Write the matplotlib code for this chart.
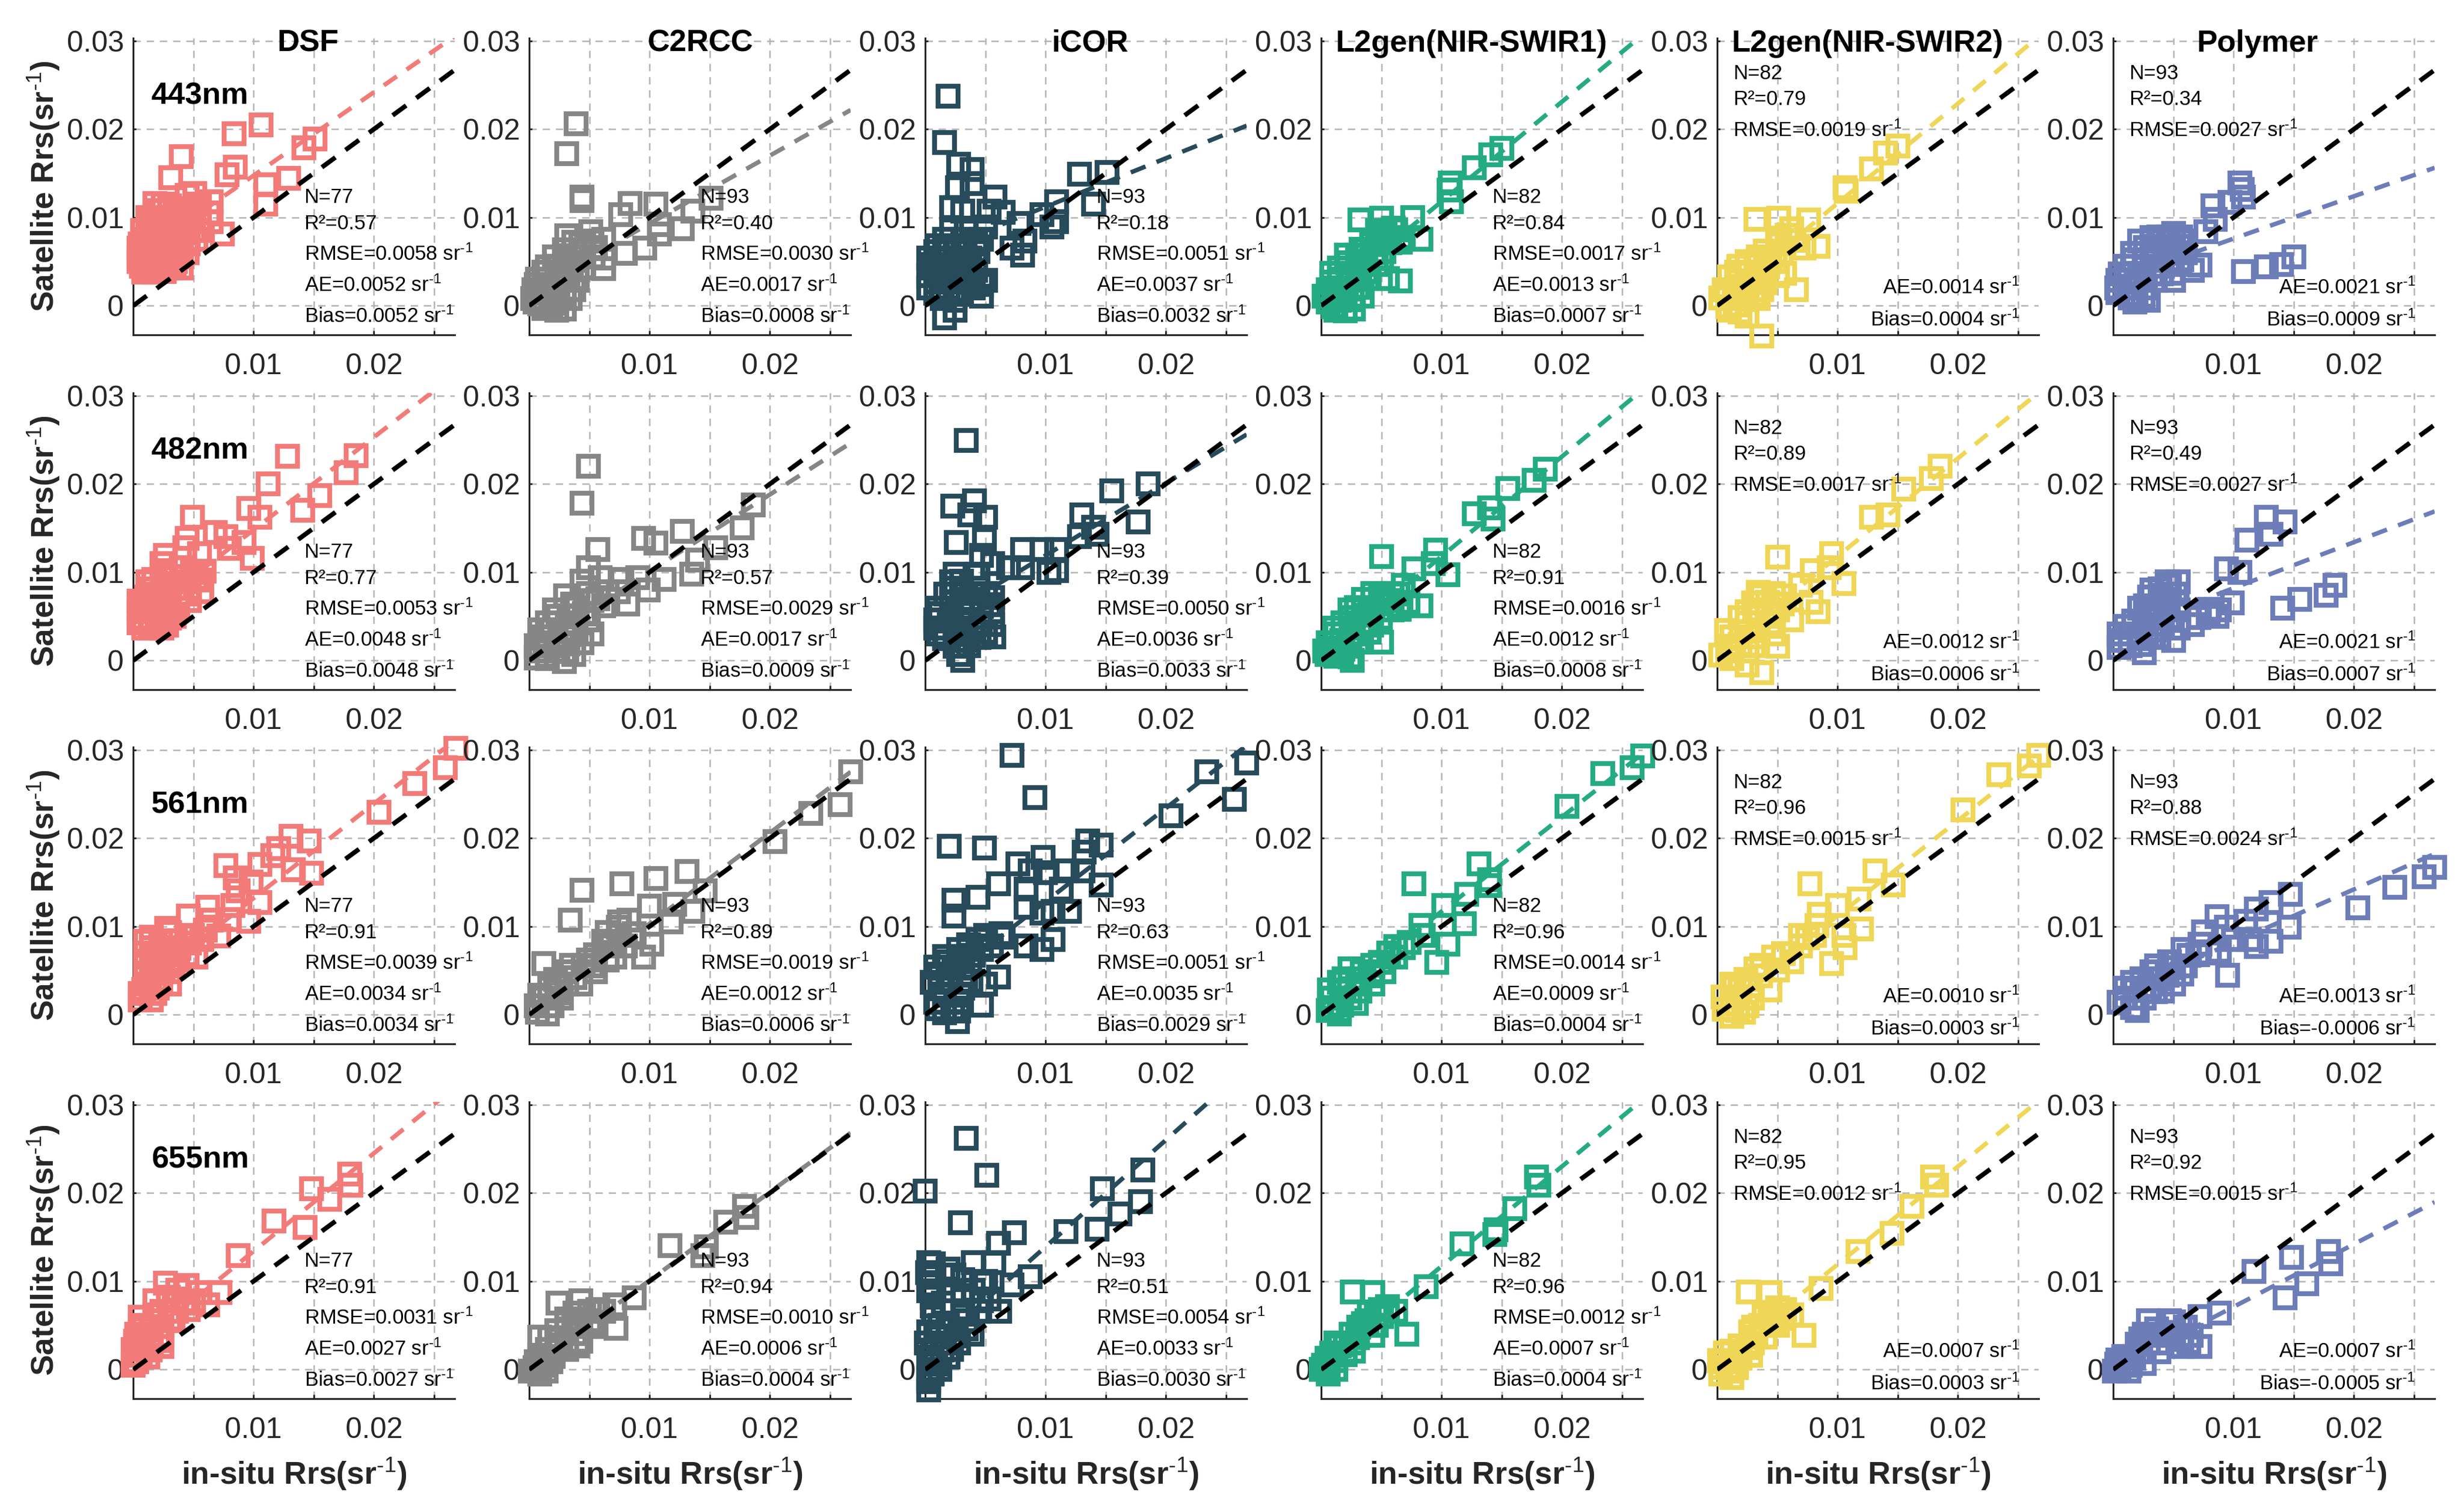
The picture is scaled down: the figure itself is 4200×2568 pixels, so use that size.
import numpy as np
import matplotlib
matplotlib.use("Agg")
import matplotlib.pyplot as plt

plt.rcParams['font.family'] = ['Liberation Sans', 'DejaVu Sans']
plt.rcParams['mathtext.fontset'] = 'custom'
plt.rcParams['mathtext.rm'] = 'Liberation Sans'
plt.rcParams['mathtext.it'] = 'Liberation Sans'
plt.rcParams['mathtext.bf'] = 'Liberation Sans:bold'
plt.rcParams['mathtext.default'] = 'regular'

methods = ['DSF', 'C2RCC', 'iCOR', 'L2gen(NIR-SWIR1)', 'L2gen(NIR-SWIR2)', 'Polymer']
bands = ['443nm', '482nm', '561nm', '655nm']
colors = ['#F27B79', '#868686', '#274B5A', '#25AB83', '#EFD656', '#6C7DB8']

# all scatter values below are in 0.001 sr-1
dsf_443_x = [10.6,8.4,15.1,14.2,4.0,8.5,7.8,3.1,12.9,11,11,5.1,6.5,1.8,7.4,4,2.5,3.0,4.5,5.5,6.3,1.2,2,3,4,5,6.5,0.8,1.5,2.5,3.5,4.5,5.5,1,2,3,4,5.2,0.5,1.2,2,3,4,0.5,1,2,3,4,0.7,1.5,2.5,3.5,0.9,1.7,2.6]
dsf_443_y = [20.5,19.5,18.9,17.9,16.9,15.7,14.8,14.5,14.4,13.7,11.5,12.7,11.8,11.6,8.1,4.3,11.5,11.3,12.5,11.5,10.5,10,10,10,10.5,10,9.5,8.5,9,9,9,9,8.5,7.5,7.5,7.5,8,7.5,6.5,6.5,6.5,6.5,6.5,5.5,5.5,5.5,5.5,5.5,4.5,4.5,4.5,5,3.8,3.8,3.9]
c2rcc_443_x = [3.9,3.1,4.4,4.4,8.4,7.6,10.5,15.1,13.6,10.8,12.7,10.8,5.1,3.1,9.6,8,6.2,6.2,2.1,3.7,6.2,4.3,5.5,1.2,3,0.6,2.4,4,0.3,1.8,3.4,1.8,2.9,0.9,3.7,3]
c2rcc_443_y = [20.6,17.2,12.3,11.9,11.6,10.3,11.5,12.2,10.7,9.2,8.7,8.1,8.4,7.9,6.5,5.9,5.4,4.2,5.5,6.3,7.5,7,6.6,3.8,3.8,2.4,2.4,2.9,0.8,0.8,0.8,-0.1,-0.4,1.8,1.8,5]
icor_443_x = [1.9,1.6,2.8,3.9,2.7,3.9,12.8,15.1,14,5.8,2.2,3.1,5.3,6.5,10.9,9.7,10.9,10.5,7.8,5,8.3,8.1,7.2,4.7,1.6,3.1,0.9,2.5,4.4,0.6,2.2,3.7,0.3,1.9,3.4,5,0.3,1.9,4.7,2.5,1.6,4.7,2.5]
icor_443_y = [23.7,18.5,16,15.4,13.4,13.8,14.9,15.1,11.5,12.3,11.1,10.7,10.7,10.6,11.8,10.3,9.5,8.9,9.3,8.9,7.3,5.7,6.5,7.5,7.5,7.5,6.1,6.1,6.1,4.7,4.7,4.7,3.4,3.4,3.4,2.9,2,2,1.1,-0.5,-1.4,2.4,0.6]
swir1_443_x = [15,14.1,12.7,10.7,10.6,10.8,3.2,5,7.6,6.2,8.3,6.8,5,2.1,3.7,5.2,6.6,5.5,1.5,3.1,4.6,0.9,2.4,4,0.25,1.8,3.4,1.2,2.7]
swir1_443_y = [17.8,17.1,15.6,13.9,13.1,11.8,9.7,9.9,10,8.6,7.5,7.7,7.5,5.7,6.3,6.1,2.8,3.1,4.3,4.5,4.7,2.7,2.9,3.1,1.1,1.3,1.1,-0.5,-0.4]
swir2_443_x = [15,14,12.8,10.6,10.7,3.2,5.1,7.6,6.2,8.4,5,7.2,2.5,4.4,1.6,3.4,5,5.6,6.6,0.6,2.2,3.7,0.9,2.5,2.5,3.7,1.9,3.4]
swir2_443_y = [18.1,17.3,15.5,13.4,13,9.8,9.9,9.7,8.7,6.7,7,6.5,5,5.2,3.8,3.8,3.4,3.7,1.8,1.8,2,1.8,-0.1,0.7,-1.2,-3.4,-0.7,0.8]
polymer_443_x = [10.5,10.7,10.8,9.7,8.3,8.5,7.7,5,3.2,2.2,4.1,6,15,14,12.7,10.8,7.2,6.6,5,1.6,3.2,4.7,1,2.6,4.1,0.4,1.9,3.5,0.4,1.9,2.9,1.8,5.7]
polymer_443_y = [13.9,13.2,12.3,11.7,11.3,9.8,8.4,8.2,7.7,7.3,7.3,7.3,5.5,4.7,4.4,3.9,4.6,4,2.9,5.9,6.1,6.1,4.5,4.5,4.5,2.9,2.9,2.9,1.5,1.3,0.6,0.4,5.2]

dsf_482_x = [18.5,12.8,17.7,11.2,15.5,14.1,9.6,10.5,4.9,6.8,4.5,7.7,8,9.2,9.9,2.7,5.5,4.3,5.9,2.4,4,1.2,2.7,4.6,5.7,1.2,3,4.6,0.9,2.4,3.7,0.9,2.1,3,0.9,2.4,1.5]
dsf_482_y = [23.2,23.1,21.3,20,18.7,17,17.2,16.2,16.2,14.5,13.8,14,12.7,13.4,11.6,11.9,12.1,12.8,10.1,11,10.5,8.9,9.4,8.9,7.8,7.5,7.8,7.5,6.2,6.2,5.9,4.8,4.8,4.8,3.7,3.7,4.2]
c2rcc_482_x = [4.9,4.4,18.6,17.7,12.7,9.5,10.5,15.5,5.7,14,4.9,13.5,11.2,9,7.7,4.4,5.9,9.9,8.2,7.4,3,4.9,6.5,6.2,2.1,4,1.5,3.4,5.2,1.2,3,0.9,2.4,3.7,2.9,1.5]
c2rcc_482_y = [22,17.8,17.6,15,14.6,13.8,13.3,12.8,12.6,11.4,10.5,9.8,9.2,9.4,9.2,9,9.4,8,6.4,7.8,7.3,7.6,7.8,6.2,5.7,5.9,4.3,4.3,3,2.7,2.7,1.1,1.1,0.7,-0.1,0.2]
icor_482_x = [3.4,18.5,15.5,2.3,4.1,3.7,5,17.7,13,14,14.3,12.8,2.6,4.9,4.7,8.1,9.7,10.9,5.6,6.9,8.1,10.3,10.9,2.5,4.4,2.5,4.4,2.2,3.7,5.6,1.2,3.1,0.9,2.5,5.6,5.7,1.6,3.4,2.8,3.1,5.6]
icor_482_y = [24.9,20,19.2,17.5,18.1,16.5,16.2,15.7,16.5,15.1,14.3,14,13.4,13.7,11.9,12.6,12.6,12.6,11,10.5,10.5,10,10.2,9.8,9.8,8.2,8.2,6.6,6.9,7.1,5.3,5.3,3.7,3.7,4.1,2.7,2.5,2.3,0.7,0,5.5]
swir1_482_x = [18.6,17.7,15.5,14,12.7,14.3,5,9.5,7.7,9.3,10.5,6.8,8.3,4.3,5.9,2.4,4.3,5.9,1.8,3.4,4.9,1.2,2.7,5,4,0.9,2.4,1.2,2.6]
swir1_482_y = [21.7,20.4,19.5,17.3,16.6,16,11.8,12.5,10.4,11,9.7,8.5,6.2,7.6,7.6,5.7,6,5.7,4.3,4.3,4.8,3,3,2.1,3.2,1.4,1.6,0.5,0]
swir2_482_x = [18.5,17.8,15.5,14.2,12.8,5,9.5,7.9,9.3,10.5,6.9,8.4,7.8,3.7,5.6,3.1,5,2.5,4.4,6.2,1.2,3.1,5,4.7,0.9,2.5,2.5,3.7,1.2]
swir2_482_y = [22,20.6,19.4,16.5,16.2,11.7,12.1,10.2,10.5,8.7,8.5,5.5,6.6,7.3,7.3,5.7,5.7,4.3,4.3,4.6,2.7,2.7,1.6,3,1.1,1.1,-0.5,-1.4,0.2]
polymer_482_x = [12.7,14.3,13.1,11.1,9.4,10.5,18.4,17.7,15.5,14.1,9.9,8.8,7.9,6.6,5,4.7,3.2,5.4,4.1,2.2,3.8,5.4,1,2.6,4.1,5.4,0.7,2.2,2.6,3.8]
polymer_482_y = [16.2,15.7,14.3,13.6,10.4,10,8.5,7.4,6.9,5.9,6.5,5.7,5.3,4.1,2.3,8.5,8,8.9,6.9,5.9,5.7,5.7,3.9,4.1,4.1,3.7,2.3,2.5,0.9,2.7]

dsf_561_x = [26.8,25.9,23.4,20.4,13.1,14.6,12.1,11.6,7.7,10.5,13.3,14.8,8.5,9.8,8.7,10.5,6.2,8.3,9.6,4.6,6.5,8,7.1,3,1.5,4.9,3,1.5,5.2,1.8,3.7,3,1.5,3,1.2,0.6,1.8,1.5,0.6]
dsf_561_y = [30.2,28,26.2,22.9,20.2,19.7,18.8,18,16.9,17,16.4,16,15.5,15,14,12.7,12.2,12.4,10.6,11.2,10.7,10.8,8.9,9.3,8.8,9,7.6,7.6,6.5,6.2,6.2,4.9,4.9,3.5,3.5,2.4,2.4,1.7,1.7]
c2rcc_561_x = [26.7,25.8,23.4,20.4,13.1,10.5,7.7,4.4,14.6,12.1,10,3.4,13.6,11.8,8.3,6.5,10.2,9.5,1.2,7.1,6.2,8.7,4.9,5.5,3.1,4.3,2.4,1.2,2.7,0.6,1.5,6.8,7.4]
c2rcc_561_y = [27.5,23.8,22.8,19.6,16.2,15.4,14.8,14.1,14,12.5,12.3,10.7,11.7,10.5,10.7,9.3,8,6.5,5.8,6.5,8.3,9.2,6.2,4.9,4.9,3.5,3.3,1.9,1.9,1,0.1,7.8,9.9]
icor_561_x = [7.2,9.1,26.7,23.4,25.7,20.4,2,4.9,13.5,14.6,9.8,7.7,13.2,11.8,13.1,8.7,10,14.6,11.3,8.4,6.1,4.4,2.4,2.4,8.4,10.6,12,9.7,10.6,9.7,8.4,6.5,4.4,2.8,4.7,1.9,3.7,1.2,3.1,6.1,5,1.2,3.1,4.7,0.9,2.8,1.6,2.7]
icor_561_y = [29.4,24.6,28.5,27.5,24.4,22.5,19.1,18.9,19.7,19.2,17.8,17.1,18.4,16.3,16.3,16.3,16.1,14.7,14.2,14.2,14.8,13.3,13,11.2,12.2,11.7,11.7,11.5,8.5,7.4,7.8,8.8,8.5,7.4,7.4,6,6,4.6,4.6,4.3,3.5,3,3,1.1,1.4,1.4,0.2,-0.8]
swir1_561_x = [26.7,25.8,23.4,20.4,13.1,7.7,14,14,12.1,10.2,8.3,11.9,10.5,8.5,9.6,6.8,6.2,4.3,5.2,3.4,1.5,3,4.3,0.9,2.4,1.5,0.9]
swir1_561_y = [29.3,28,27.3,23.6,17.1,14.8,15.3,14.6,13.6,12.4,10.1,10.3,8,9,5.9,7.6,6.5,5.6,4.9,4.9,3.7,3.5,3.5,1.9,1.9,0.1,0.8]
swir2_561_x = [26.7,25.9,23.4,20.4,13.1,7.7,14.6,11.8,10,8.3,12,10.5,10.6,9.5,6.9,6.2,3.7,5,1.2,2.8,4.4,1.2,2.5,1.2,2.2]
swir2_561_y = [29.4,28.2,27.2,23.2,16.3,14.8,14.7,13.1,12.4,10.1,9.7,9,7.6,5.8,7.8,6,5.6,5.1,3.5,3.3,2.8,1.2,1,-0.2,0.3]
polymer_561_x = [26.7,25.8,23.4,20.3,14.7,13.1,11.9,14.6,8.6,13.1,11.9,11,9.4,7.2,9.5,8.8,6.3,4.7,3.2,5.7,1.6,4.1,1,2.6,1.6,11.3,7.5,10]
polymer_561_y = [16.7,15.6,14.4,12.1,13.6,12.7,12,9.9,11.1,8.3,7.7,10.6,9.9,8,4.5,7.2,6.7,6,4.9,4.6,3.7,2.7,1.9,1.9,0.8,8.5,9.4,8.5]

dsf_655_x = [18,18.1,14.8,16.3,11.7,14.3,8.7,2.7,4.5,7.2,5.5,6.2,1.8,3.4,4.6,0.6,1.8,3,0.9,2.4,0.2,1.5,2.4,0.6,0,0]
dsf_655_y = [22.1,20.9,20.5,19.3,16.8,16.1,12.9,9.8,9.5,8.7,8.7,7.3,7.8,8,6.8,5.9,6.2,5.7,4.6,3.9,3.2,3,2.6,1.6,0.5,2.3]
c2rcc_655_x = [17.9,18.1,16.3,11.7,14.7,14.4,8.7,2.4,4.3,7.1,6.2,7.2,4.3,3.1,3.1,4.3,0.9,2.4,1.5,3.1,0.6,1.8,0.1,0.9,5.5]
c2rcc_655_y = [18.5,17.2,16.7,14,13.9,12.9,8.1,7.5,7.8,7.3,6.6,4.7,5.7,5.7,4.6,3.2,3.7,3.4,2.3,2.3,0.9,0.9,-0.2,-0.5,5.3]
icor_655_x = [3.4,5.1,18.1,14.7,17.9,0,16.2,2.9,7.4,11.7,14.3,6.1,0.3,4,5.7,1.9,0.3,8.7,7.2,3.1,4.7,0.6,3.1,4.7,6.2,4.4,0.7,3.1,0.3,1.9,3.4,0.1,1.6,2.8,0.3,1.9,0.6,0.3,0.3,1.2]
icor_655_y = [26.2,22,22.6,20.5,19,20.2,17.6,16.6,15.5,15.6,15.9,14.3,12.1,12.1,12.1,11.4,10.5,10.5,9.6,10.2,9.8,8.2,8.4,7.8,6.6,6.6,6.3,6.6,4.3,4.6,4.6,3,3,3,1.4,1.4,-0.5,-2.3,-1.4,0]
swir1_655_x = [17.9,18.1,16.1,14.5,14.4,11.7,8.7,2.6,4.3,5.5,6.2,4.6,7.1,4.6,4.3,3.1,2.7,1.5,2.7,1.2,0.2,0.6,0]
swir1_655_y = [21.8,20.9,18.2,15.8,15.3,14.2,9.4,8.8,8.7,7.1,6.6,6.2,4,5,3.9,4.8,3,2.7,2.1,1.6,0.5,-0.5,0]
swir2_655_x = [17.9,18.2,16.2,14.5,11.7,8.6,2.6,4.4,5.6,6.2,4.4,7.2,5,4,2.8,2.5,1.2,2.8,0.6,0.3,1.2,1.6]
swir2_655_y = [21.8,20.9,18.5,15.4,13.4,9.2,8.8,8.7,6.8,6.2,6.4,3.9,5,3.7,4.3,2.5,2.1,1.6,0.9,-0.5,-0.9,0.2]
polymer_655_x = [17.9,18.1,14.8,11.7,16.1,14.3,8.8,7.2,2.9,4.7,6,7.2,5.7,3.2,5,2.2,3.8,1,2.6,0.1,1.3,0.4]
polymer_655_y = [13.4,12,12.7,11.1,9.7,8.1,6.4,6,5.5,5.5,4.8,2.6,2.6,3.9,3.9,2,2,0.7,0.7,-0.2,-0.2,1.1]

# points inside the dense clumps, (x, y) read from where the clumps sit
dsf_443_dense = [(1.2,4.1),(2.1,4.1),(3.1,4.3),(0.5,5),(1.3,5),(2.4,5),(3.4,4.6),(0.9,6),(1.6,6),(2.5,6),(3.5,6),(4.5,6),(.6,7),(1.5,7),(2.5,7),(3.5,7),(4.6,7),(1.2,8),(2.2,8),(3.2,8),(4.2,8.5),(5,8.5),(1.5,9.5),(2.5,9.5),(3.5,9.5),(4.5,9.5),(5.5,9.5),(2.2,10.8),(3.5,11),(5,11)]
c2rcc_443_dense = [(.7,3),(1.5,3),(2.3,3.2),(3.2,3),(.4,1.8),(1.2,1.4),(2,1.6),(2.9,1.3),(.9,.2),(2.2,.3),(1.2,-.3),(2.3,-.5),(1.5,4.4),(2.5,4.5),(3.5,4.5),(4.5,4.3),(3.5,5.5),(4.5,5.5),(5.3,5.5),(2.9,6.3),(4.5,6.3),(5.2,7.3),(3.7,7.2),(.5,.4)]
icor_443_dense = [(1,6.8),(2,6.8),(3.3,6.8),(.3,5.4),(1.3,5.4),(2.9,5.4),(3.7,5.4),(1.1,4),(2.7,4),(4.2,4),(.9,2.7),(2.6,2.7),(3.7,2.7),(.9,1.4),(2.8,1.3),(1.4,.8),(4.2,7),(2.2,8.6),(3.4,8.8),(1.3,1.9),(4,2),(3.1,5),(4.2,5.2),(2,3)]
swir1_443_dense = [(.6,.4),(1.5,.6),(2.6,.7),(1,-.1),(2,-.6),(.6,1.8),(1.2,2),(2.1,2),(3,2.1),(1.5,3),(3.2,3),(.9,3.7),(2.3,3.7),(3.7,3.9),(2.2,4.9),(3.7,5),(3,5.7),(4.4,6),(4.2,7),(5.7,7.1),(5.3,8.1),(6,8.8),(3.3,6.4),(5,5.4),(4.7,8.5),(6.6,7.2)]
swir2_443_dense = [(.3,.9),(1.4,.8),(2.3,1),(3,1.2),(.9,1.3),(1.6,2.8),(2.8,2.8),(4,2.6),(1,3.3),(2.5,3.7),(4.2,4.4),(3.2,4.6),(1.8,4.5),(3.4,5.5),(4.8,5),(4,6.2),(5.3,6),(5.2,7.4),(6.4,7.4),(5.8,8),(1.5,.1),(1,-.5)]
polymer_443_dense = [(.3,2),(1,2),(2.7,2),(.6,3.6),(1.3,3.6),(2.2,3.6),(3.2,3.6),(4,3.6),(1.7,5.2),(2.6,5.2),(3.6,5.2),(4.6,5.2),(2.7,6.6),(3.6,6.7),(4.7,6.7),(5.5,6.7),(3.8,7.8),(4.6,7.8),(5.6,7.8),(6,6),(4.9,3.7),(1.4,.9),(2.5,1.1),(5.5,4.7)]
dsf_482_dense = [(.5,4.3),(1.4,3.7),(2,4.3),(2.8,4),(.5,5.5),(1.5,5.5),(2.8,5.3),(3.4,5),(.5,6.7),(1.5,6.8),(2.8,6.8),(3.7,6.8),(4.7,6.8),(1.6,8.1),(2.4,8.2),(3.5,8.2),(4.7,8.2),(1.7,9.2),(3.5,9.5),(5.2,9.3),(2.6,10.2),(4.9,10),(1.1,7.2),(5.6,9.1)]
c2rcc_482_dense = [(.6,1.7),(1.3,1.7),(2.2,1.7),(3.2,1.9),(.9,3.5),(1.9,3.5),(2.9,3.5),(3.9,3.3),(2.4,5),(3.3,5),(4.6,5.3),(3.6,6.4),(5.2,6.8),(5.7,7),(1.5,.5),(3.1,1),(4.4,2),(.6,.3),(4.9,4.6)]
icor_482_dense = [(.9,4.6),(2,4.5),(3.4,4.3),(4.6,4.3),(1,5.9),(2.2,5),(3.7,5.9),(4.7,6.1),(1.7,7.5),(3,7.8),(5,7.6),(1.7,2.9),(3,3),(4,3.2),(1.5,3.7),(5,3.2),(3,9),(2.2,8.9),(5.3,6.3),(1.1,3),(4.5,2.6),(3.6,1.7),(2.5,1.6)]
swir1_482_dense = [(.5,.7),(1.7,.8),(2.4,.4),(.6,2),(1.7,2.3),(3,2.1),(1.1,3.7),(2.7,3.7),(4.2,4),(2.5,4.9),(3.8,5.1),(5.5,6.8),(5,6.4),(2.9,6),(4.9,7.1),(6.4,7.5),(3.5,6.9),(6.6,6.2),(7.2,6.6),(6.5,5.8),(.3,1.1),(1.8,1.3)]
swir2_482_dense = [(.3,.6),(.9,1.6),(1.9,1.8),(3,1.7),(.8,3.4),(2,3.3),(3.4,3.4),(1.9,4.9),(3.4,5),(4.7,5),(3,6.5),(4.2,6.6),(5.4,6.4),(3.4,7.7),(4.7,7.6),(2.5,5.5)]
polymer_482_dense = [(.5,3),(1.4,3),(2.8,3.2),(3.5,3.5),(1.7,4.5),(3.1,4.8),(4.6,4.9),(2.7,6.2),(3.4,6),(4.5,6.2),(5.3,6.5),(3,7.2),(4,7.4),(5.2,7.5),(3.9,8.1),(4.5,8.9),(1.4,1.7),(2.3,1.8),(3.2,2.6),(.5,1.5),(7.1,4.9),(8,5.8),(8.6,5)]
dsf_561_dense = [(.9,2.9),(2,3),(2.3,3.8),(1,4.3),(2.5,5.4),(3.3,5.5),(1,5.6),(2.3,6.4),(4.5,6.8),(2.5,7.4),(3.8,7.5),(1,7),(2.3,8.3),(3.5,8.4),(4.7,8.1),(5.7,8.5),(1,8.3),(6,9.6),(2.8,9.8)]
c2rcc_561_dense = [(.7,.3),(1.9,1),(.9,2.2),(2.3,2.5),(1.7,3),(3.1,3.5),(2.2,4),(3.8,4.2),(4.5,5.6),(3.5,5.6),(5.2,5.5),(5.5,6.8),(6.5,6.2),(6.5,8),(7.5,9),(8,7.8),(7.5,10.5)]
icor_561_dense = [(.6,3.7),(1.9,3.9),(3.8,3.8),(2.4,5.3),(.9,5.4),(3.1,5.4),(1.6,6.6),(2.9,6.6),(4,6.7),(3.6,7.9),(5.5,7.8),(1.6,2.2),(2.9,2.2),(1,.7),(2.3,.7),(2.8,.4),(6.3,9.2),(5,9)]
swir1_561_dense = [(.6,.5),(1.7,1.1),(2.9,1.3),(.7,2.8),(1.9,2.7),(3.2,2.7),(1.9,4.1),(3.2,4.1),(4.2,4.4),(2.4,5.2),(4.9,5.9),(5.6,7),(6.2,7.7),(7.3,8.2),(1.5,.5)]
swir2_561_dense = [(.6,.6),(1.7,.5),(.5,2),(1.7,2),(2.9,1.9),(1.4,3.1),(2.4,4),(3.6,4.4),(4.7,6.5),(5.5,6.9),(6.9,9),(8.1,9),(8.5,11.4),(3.2,5.2),(1.9,2.9),(7.5,8.7)]
polymer_561_dense = [(.5,1.4),(1.8,2.8),(3,3.2),(3.5,2.6),(2.4,4.1),(3.8,4.1),(5,3.5),(3.6,5.5),(5,5.3),(6,5.5),(5.8,7.4),(7,6.8),(8,7),(1,3),(2,.5),(4.5,4.5)]
dsf_655_dense = [(.3,.9),(1.2,1.4),(.5,2.6),(1.4,2.2),(.9,3.6),(2.1,3.3),(1.5,4.7),(2.4,4.9),(.6,5),(2.4,6.6),(3.6,6.6),(3.3,5.5),(4.2,7.5),(5,7.8),(2.9,8.2),(3.7,9),(.3,4)]
c2rcc_655_dense = [(.5,.2),(1.2,.5),(2,1.5),(.9,1.6),(2.5,2.8),(1.7,3.6),(3.8,4.1),(2.3,4.4),(3.7,5.1),(5,5.5),(5,6.6),(3.8,6.4),(5.7,6.8),(5.2,4.9),(1.4,-.2),(4,2.7)]
icor_655_dense = [(.6,.6),(1.4,2.2),(.6,2.2),(2.2,2.3),(.9,3.7),(2.6,3.8),(3.9,4),(1.2,5),(3.5,5.5),(.6,7.2),(.3,8.9),(1.5,7.5),(2.4,8.9),(4,9),(5,10),(.7,12),(2.4,10.7),(.3,-.9),(.9,.6),(.2,11),(.5,9.6),(5.3,8)]
swir1_655_dense = [(.6,.8),(1.2,1),(.2,.2),(1.2,0),(.9,1.9),(2,1.7),(2,2.8),(1.2,3),(3,3.6),(3.5,5.2),(2.5,4),(4.9,6.8),(3.8,5.5),(5,6),(4,6.5),(.5,1.3)]
swir2_655_dense = [(.2,1),(.9,.2),(1,-.2),(.7,1.9),(1.9,1.3),(1.9,2.7),(2.9,3),(3.2,3.7),(3.6,5),(3,4.8),(5,7),(5.5,5.8),(3.9,6),(4.7,5.5),(.3,.2)]
polymer_655_dense = [(.3,.6),(.9,1.5),(1.7,1.3),(.5,.1),(2,2.9),(2.9,3),(3.7,3),(2.6,4),(3.6,4.6),(4.5,4.2),(5.6,3.4),(6.3,3.1),(2.3,3.5),(5,5.4),(6.5,3.9),(1.4,.5)]

xs = [[dsf_443_x, c2rcc_443_x, icor_443_x, swir1_443_x, swir2_443_x, polymer_443_x],
      [dsf_482_x, c2rcc_482_x, icor_482_x, swir1_482_x, swir2_482_x, polymer_482_x],
      [dsf_561_x, c2rcc_561_x, icor_561_x, swir1_561_x, swir2_561_x, polymer_561_x],
      [dsf_655_x, c2rcc_655_x, icor_655_x, swir1_655_x, swir2_655_x, polymer_655_x]]
ys = [[dsf_443_y, c2rcc_443_y, icor_443_y, swir1_443_y, swir2_443_y, polymer_443_y],
      [dsf_482_y, c2rcc_482_y, icor_482_y, swir1_482_y, swir2_482_y, polymer_482_y],
      [dsf_561_y, c2rcc_561_y, icor_561_y, swir1_561_y, swir2_561_y, polymer_561_y],
      [dsf_655_y, c2rcc_655_y, icor_655_y, swir1_655_y, swir2_655_y, polymer_655_y]]
dense = [[dsf_443_dense, c2rcc_443_dense, icor_443_dense, swir1_443_dense, swir2_443_dense, polymer_443_dense],
         [dsf_482_dense, c2rcc_482_dense, icor_482_dense, swir1_482_dense, swir2_482_dense, polymer_482_dense],
         [dsf_561_dense, c2rcc_561_dense, icor_561_dense, swir1_561_dense, swir2_561_dense, polymer_561_dense],
         [dsf_655_dense, c2rcc_655_dense, icor_655_dense, swir1_655_dense, swir2_655_dense, polymer_655_dense]]

# fit lines, slope and intercept (0.001 sr-1)
slopes = [[0.944, 0.77, 0.55, 1.13, 1.13, 0.48],
          [1.05, 0.87, 0.82, 1.13, 1.11, 0.52],
          [1.07, 1.03, 1.06, 1.07, 1.08, 0.60],
          [1.11, 1.00, 1.21, 1.13, 1.11, 0.71]]
intercepts = [[5.3, 1.6, 5.7, 0.5, 0.3, 2.8],
              [4.3, 1.4, 3.7, 0.5, 0.7, 3.0],
              [2.5, 0.0, 2.2, 1.0, 0.4, 2.2],
              [2.3, 0.1, 1.8, 0.4, 0.8, 0.0]]

n_vals = [77, 93, 93, 82, 82, 93]
r2 = [['0.57', '0.40', '0.18', '0.84', '0.79', '0.34'],
      ['0.77', '0.57', '0.39', '0.91', '0.89', '0.49'],
      ['0.91', '0.89', '0.63', '0.96', '0.96', '0.88'],
      ['0.91', '0.94', '0.51', '0.96', '0.95', '0.92']]
rmse = [['0.0058', '0.0030', '0.0051', '0.0017', '0.0019', '0.0027'],
        ['0.0053', '0.0029', '0.0050', '0.0016', '0.0017', '0.0027'],
        ['0.0039', '0.0019', '0.0051', '0.0014', '0.0015', '0.0024'],
        ['0.0031', '0.0010', '0.0054', '0.0012', '0.0012', '0.0015']]
ae = [['0.0052', '0.0017', '0.0037', '0.0013', '0.0014', '0.0021'],
      ['0.0048', '0.0017', '0.0036', '0.0012', '0.0012', '0.0021'],
      ['0.0034', '0.0012', '0.0035', '0.0009', '0.0010', '0.0013'],
      ['0.0027', '0.0006', '0.0033', '0.0007', '0.0007', '0.0007']]
bias = [['0.0052', '0.0008', '0.0032', '0.0007', '0.0004', '0.0009'],
        ['0.0048', '0.0009', '0.0033', '0.0008', '0.0006', '0.0007'],
        ['0.0034', '0.0006', '0.0029', '0.0004', '0.0003', '-0.0006'],
        ['0.0027', '0.0004', '0.0030', '0.0004', '0.0003', '-0.0005']]

W, H = 4200, 2568
lefts = [227, 902, 1577, 2252, 2927, 3602]
bottoms = [571, 1176, 1780, 2385]
ax_w, ax_h = 548, 506
title_x = [0.544, 0.533, 0.512, 0.467, 0.467, 0.449]
SR = r' sr$^{\text{-1}}$'
DARK = '#262626'

fig = plt.figure(figsize=(14, 8.56), dpi=300)
for r in range(4):
    for c in range(6):
        ax = fig.add_axes([lefts[c] / W, 1 - bottoms[r] / H, ax_w / W, ax_h / H])
        extra = np.array(dense[r][c])
        x = np.concatenate([xs[r][c], extra[:, 0]]) / 1000
        y = np.concatenate([ys[r][c], extra[:, 1]]) / 1000
        ax.plot(x, y, ls='none', marker='s', ms=8.0, mfc='none', mec=colors[c], mew=2.0,
                clip_on=False, zorder=3)
        lim = np.array([0, 0.0267])
        ax.plot(lim, slopes[r][c] * lim + intercepts[r][c] / 1000, color=colors[c], lw=1.8,
                dashes=(3.6, 2.7), zorder=4)
        ax.plot(lim, lim, color='k', lw=1.9, dashes=(3.6, 2.7), zorder=5)

        ax.set_xlim(0, 0.0267)
        ax.set_ylim(-0.0033, 0.0303)
        ax.set_xticks([0.005, 0.01, 0.015, 0.02, 0.025])
        ax.set_xticklabels(['', '0.01', '', '0.02', ''])
        ax.set_yticks([0, 0.01, 0.02, 0.03])
        ax.set_yticklabels(['0', '0.01', '0.02', '0.03'])
        ax.tick_params(axis='x', direction='in', length=1.7, width=0.7, labelsize=12,
                       pad=7.5, colors=DARK)
        ax.tick_params(axis='y', direction='in', length=1.3, width=0.7, labelsize=12,
                       pad=3.8, colors=DARK)
        ax.grid(True, color='#b4b4b4', lw=0.6, dashes=(5, 4))
        ax.set_axisbelow(True)
        ax.spines['top'].set_visible(False)
        ax.spines['right'].set_visible(False)
        for s in ['left', 'bottom']:
            ax.spines[s].set_linewidth(0.75)
            ax.spines[s].set_color(DARK)

        # stats block sits lower right, or split for the last two columns
        if c < 4:
            ax.text(0.532, 0.444, 'N=%d' % n_vals[c], transform=ax.transAxes, fontsize=8.3, zorder=6)
            ax.text(0.532, 0.356, 'R²=' + r2[r][c], transform=ax.transAxes, fontsize=8.3, zorder=6)
            ax.text(0.532, 0.252, 'RMSE=' + rmse[r][c] + SR, transform=ax.transAxes, fontsize=8.3, zorder=6)
            ax.text(0.532, 0.146, 'AE=' + ae[r][c] + SR, transform=ax.transAxes, fontsize=8.3, zorder=6)
            ax.text(0.532, 0.042, 'Bias=' + bias[r][c] + SR, transform=ax.transAxes, fontsize=8.3, zorder=6)
        else:
            ax.text(0.05, 0.862, 'N=%d' % n_vals[c], transform=ax.transAxes, fontsize=8.3, zorder=6)
            ax.text(0.05, 0.775, 'R²=' + r2[r][c], transform=ax.transAxes, fontsize=8.3, zorder=6)
            ax.text(0.05, 0.669, 'RMSE=' + rmse[r][c] + SR, transform=ax.transAxes, fontsize=8.3, zorder=6)
            ax.text(0.94, 0.138, 'AE=' + ae[r][c] + SR, transform=ax.transAxes, fontsize=8.3, ha='right', zorder=6)
            ax.text(0.94, 0.03, 'Bias=' + bias[r][c] + SR, transform=ax.transAxes, fontsize=8.3, ha='right', zorder=6)

        if r == 0:
            ax.text(title_x[c], 0.955, methods[c], transform=ax.transAxes, fontsize=12.6,
                    fontweight='bold', ha='center', zorder=6)
        if c == 0:
            ax.text(0.056, 0.778, bands[r], transform=ax.transAxes, fontsize=12.6,
                    fontweight='bold', zorder=6)
            ax.set_ylabel(r'Satellite Rrs(sr$^{\mathbf{\text{-1}}}$)', fontsize=12.8, fontweight='bold',
                          color=DARK, va='center')
            ax.yaxis.set_label_coords(-0.278, 0.5)
        if r == 3:
            ax.set_xlabel(r'in-situ Rrs(sr$^{\mathbf{\text{-1}}}$)', fontsize=12.8, fontweight='bold',
                          color=DARK, va='center')
            ax.xaxis.set_label_coords(0.5, -0.255)

fig.savefig('out.png', dpi=300)
